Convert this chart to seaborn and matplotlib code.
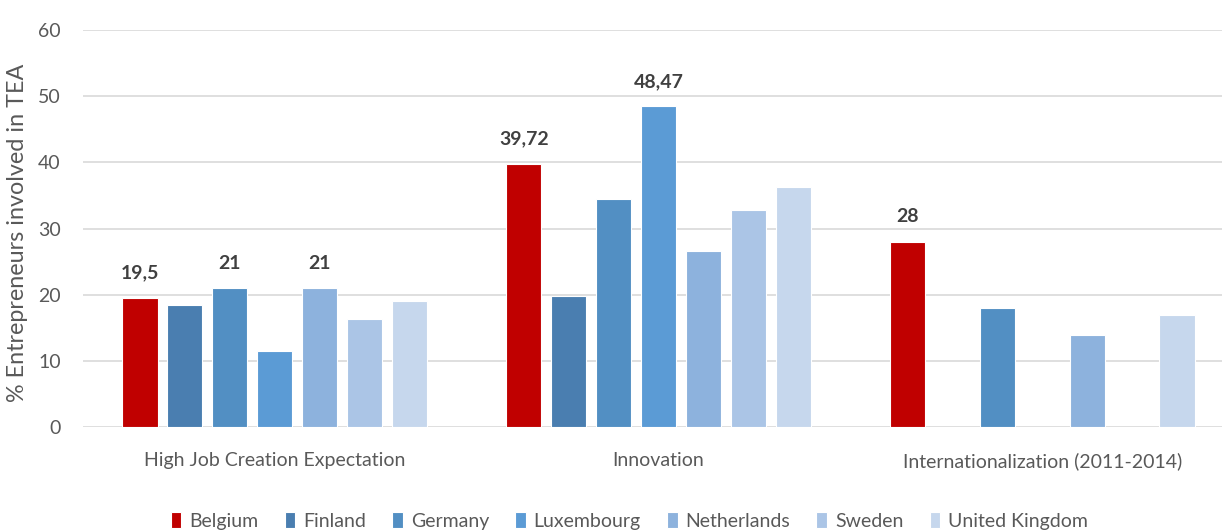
import numpy as np
import pandas as pd
import matplotlib
matplotlib.use("Agg")
import matplotlib.pyplot as plt
import seaborn as sns

categories = ["High Job Creation Expectation", "Innovation", "Internationalization (2011-2014)"]
countries = ["Belgium", "Finland", "Germany", "Luxembourg", "Netherlands", "Sweden", "United Kingdom"]

belgium = [19.5, 39.72, 28.0]
finland = [18.4, 19.8, np.nan]
germany = [21.0, 34.4, 18.0]
luxembourg = [11.5, 48.47, np.nan]
netherlands = [21.0, 26.6, 13.9]
sweden = [16.3, 32.8, np.nan]
united_kingdom = [19.0, 36.2, 16.9]

colors = ["#C00000", "#4A7EB0", "#528FC3", "#5B9BD5", "#8DB2DD", "#ABC5E6", "#C6D7ED"]

# value labels shown on the chart: (category index, country) -> text
value_labels = {
    (0, "Belgium"): "19,5",
    (0, "Germany"): "21",
    (0, "Netherlands"): "21",
    (1, "Belgium"): "39,72",
    (1, "Luxembourg"): "48,47",
    (2, "Belgium"): "28",
}

series = [belgium, finland, germany, luxembourg, netherlands, sweden, united_kingdom]
rows = []
for c, vals in zip(countries, series):
    for cat, v in zip(categories, vals):
        rows.append({"category": cat, "country": c, "value": v})
df = pd.DataFrame(rows)

sns.set_theme(style="white")
plt.rcParams["font.family"] = ["Lato", "DejaVu Sans"]

W, H = 1222, 530
fig = plt.figure(figsize=(W / 100, H / 100), dpi=100)
ax = fig.add_axes([83 / W, 1 - 427 / H, (W - 83) / W, (427 - 30) / H])

palette = dict(zip(countries, colors))
sns.barplot(data=df, x="category", y="value", hue="country", order=categories,
            hue_order=countries, palette=palette, width=0.82, gap=0.22,
            saturation=1, edgecolor="white", linewidth=0.8, ax=ax, legend=True)

ax.set_ylim(0, 60)
ax.set_xlim(-0.5, 2.5 - 12 / 384)
ax.set_yticks(range(0, 61, 10))
ax.grid(axis="y", color="#D9D9D9", linewidth=1.2)
ax.set_axisbelow(True)
for s in ax.spines.values():
    s.set_visible(False)
ax.tick_params(axis="both", length=0, labelsize=14, labelcolor="#595959")
ax.tick_params(axis="y", pad=16)
ax.tick_params(axis="x", pad=18)
ax.set_xlabel("")
ax.set_ylabel("% Entrepreneurs involved in TEA", fontsize=16.8, color="#595959")
ax.yaxis.set_label_coords(-0.048, 0.49)

# value labels
for country, cont in zip(countries, ax.containers):
    for bar in cont:
        h = bar.get_height()
        if h is None or np.isnan(h):
            continue
        xc = bar.get_x() + bar.get_width() / 2
        ci = int(round(xc))
        txt = value_labels.get((ci, country))
        if txt:
            ax.annotate(txt, (xc, h), xytext=(0, 14), textcoords="offset points",
                        ha="center", va="baseline", fontsize=14, fontweight="bold",
                        color="#404040")

leg = ax.get_legend()
handles = leg.legend_handles
leg.remove()
fig.legend(handles, countries, loc="center", bbox_to_anchor=(0.515, 1 - 521 / H),
           bbox_transform=fig.transFigure, ncol=7, frameon=False, fontsize=14,
           handlelength=0.55, handleheight=0.85, handletextpad=0.4,
           columnspacing=1.35, labelcolor="#595959")

fig.savefig("out.png", dpi=100)
